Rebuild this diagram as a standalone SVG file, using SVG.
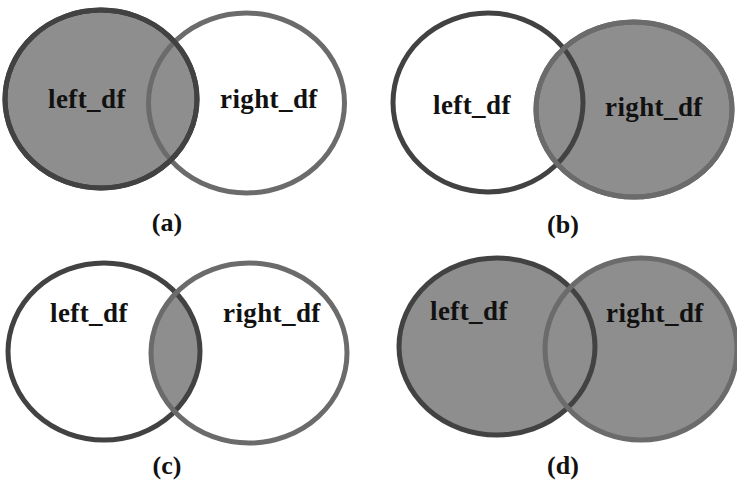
<svg xmlns="http://www.w3.org/2000/svg" width="737" height="498" viewBox="0 0 737 498">
<style>
.bg{fill:#ffffff}
.fill{fill:#8e8e8e}
.none{fill:none}
.ls{stroke:#424242;stroke-width:5}
.rs{stroke:#6b6b6b;stroke-width:5}
.lbl{font-family:"Liberation Serif","Times New Roman",serif;font-weight:bold;font-size:27px;letter-spacing:0.4px;fill:#111}
.cap{font-family:"Liberation Serif","Times New Roman",serif;font-weight:bold;font-size:26px;fill:#111;text-anchor:middle}
</style>
<defs>
<clipPath id="clipC"><ellipse cx="104" cy="351.5" rx="96" ry="88.5"/></clipPath>
</defs>
<rect class="bg" x="0" y="0" width="737" height="498"/>

<g id="panel-a">
  <g id="a-left"><ellipse class="fill ls" cx="101" cy="99" rx="96" ry="89"/></g>
  <g id="a-right"><ellipse class="none rs" cx="246.5" cy="103" rx="98" ry="90"/></g>
  <ellipse class="none ls" cx="101" cy="99" rx="96" ry="89"/>
  <text class="lbl" x="48" y="108">left_df</text>
  <text class="lbl" x="220" y="108">right_df</text>
  <text class="cap" x="167" y="231">(a)</text>
</g>

<g id="panel-b">
  <g id="b-right"><ellipse class="fill rs" cx="634" cy="109.5" rx="98" ry="87.5"/></g>
  <g id="b-left"><ellipse class="none ls" cx="488" cy="102.5" rx="95" ry="89.5"/></g>
  <ellipse class="none rs" cx="634" cy="109.5" rx="98" ry="87.5"/>
  <text class="lbl" x="433" y="114">left_df</text>
  <text class="lbl" x="605" y="116">right_df</text>
  <text class="cap" x="563" y="233">(b)</text>
</g>

<g id="panel-c">
  <ellipse class="fill" cx="249" cy="353" rx="98" ry="90" clip-path="url(#clipC)"/>
  <g id="c-left"><ellipse class="none ls" cx="104" cy="351.5" rx="96" ry="88.5"/></g>
  <g id="c-right"><ellipse class="none rs" cx="249" cy="353" rx="98" ry="90"/></g>
  <text class="lbl" x="50" y="322">left_df</text>
  <text class="lbl" x="223" y="322">right_df</text>
  <text class="cap" x="167" y="474">(c)</text>
</g>

<g id="panel-d">
  <ellipse class="fill" cx="497" cy="346.5" rx="98" ry="88.5"/>
  <ellipse class="fill" cx="641" cy="349" rx="96" ry="91"/>
  <g id="d-left"><ellipse class="none ls" cx="497" cy="346.5" rx="98" ry="88.5"/></g>
  <g id="d-right"><ellipse class="none rs" cx="641" cy="349" rx="96" ry="91"/></g>
  <text class="lbl" x="430" y="320">left_df</text>
  <text class="lbl" x="606" y="322">right_df</text>
  <text class="cap" x="563" y="474">(d)</text>
</g>
</svg>
